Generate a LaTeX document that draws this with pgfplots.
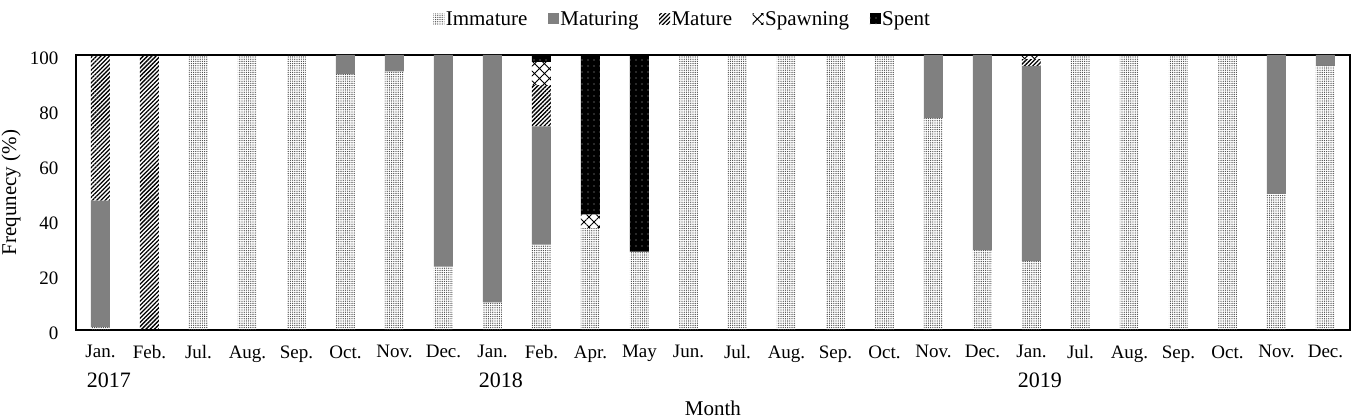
\documentclass[border=0pt]{standalone}
\usepackage{pgfplots}
\pgfplotsset{compat=1.18}
\usepackage{pgfplotstable}
\usetikzlibrary{patterns.meta}
\usepackage{fontspec}
\setmainfont{Liberation Serif}

\pgfplotstableread{
x imm matg mat spw spt
0 1 46 53 0 0
1 0 0 100 0 0
2 100 0 0 0 0
3 100 0 0 0 0
4 100 0 0 0 0
5 93 7 0 0 0
6 94 6 0 0 0
7 23 77 0 0 0
8 10 90 0 0 0
9 31 43 15 8.5 2.5
10 37 0 0 5 58
11 28.5 0 0 0 71.5
12 100 0 0 0 0
13 100 0 0 0 0
14 100 0 0 0 0
15 100 0 0 0 0
16 100 0 0 0 0
17 77 23 0 0 0
18 29 71 0 0 0
19 25 71 2.5 1.5 0
20 100 0 0 0 0
21 100 0 0 0 0
22 100 0 0 0 0
23 100 0 0 0 0
24 49.5 50.5 0 0 0
25 96 4 0 0 0
}\data

\begin{document}
\begin{tikzpicture}
\useasboundingbox (-76pt,-90pt) rectangle (1295pt,330pt);
\begin{axis}[
  at={(0pt,0pt)}, anchor=south west,
  scale only axis, width=1274pt, height=275pt,
  clip=false,
  ybar stacked, bar width=19pt,
  xmin=-0.5, xmax=25.5, ymin=0, ymax=100,
  xtick={0,...,25},
  xticklabels={Jan.,Feb.,Jul.,Aug.,Sep.,Oct.,Nov.,Dec.,Jan.,Feb.,Apr.,May,Jun.,Jul.,Aug.,Sep.,Oct.,Nov.,Dec.,Jan.,Jul.,Aug.,Sep.,Oct.,Nov.,Dec.},
  ytick={0,20,...,100},
  major tick length=0pt,
  axis line style={line width=1.5pt},
  tick label style={font=\fontsize{19}{22}\selectfont},
  xticklabel style={yshift=-12pt},
  yticklabel style={xshift=-14pt, yshift=-3pt},
  /pgf/number format/assume math mode=true,
  xlabel={Month},
  ylabel={Frequnecy (\%)},
  every axis x label/.style={at={(axis description cs:0.5,-0.284)}, anchor=center, font=\fontsize{21}{24}\selectfont},
  every axis y label/.style={at={(axis description cs:-0.051,0.5)}, rotate=90, anchor=center, font=\fontsize{21}{24}\selectfont},
  area legend,
  legend image code/.code={\path[#1] (0pt,-5.5pt) rectangle (11pt,5.5pt);},
  legend style={at={(0.476,1.131)}, anchor=center, draw=none, fill=none,
    legend columns=5, font=\fontsize{21}{24}\selectfont,
    nodes={inner sep=1.5pt},
    /tikz/every even column/.append style={column sep=19pt}},
  legend cell align=left,
]
\addplot[draw=none, pattern={Dots[distance=2.2pt, radius=0.65pt]}, pattern color=black!75] table[x=x, y=imm] {\data};
\addplot[draw=none, fill={rgb,255:red,128;green,128;blue,128}] table[x=x, y=matg] {\data};
\addplot[draw=none, pattern={Lines[angle=45, distance=3pt, line width=1.3pt]}, pattern color=black] table[x=x, y=mat] {\data};
\addplot[draw=none, pattern={Hatch[angle=45, distance=7pt, line width=0.9pt]}, pattern color=black] table[x=x, y=spw] {\data};
\addplot[draw=none, fill=black, postaction={pattern={Dots[distance=6pt, radius=0.7pt]}, pattern color=white!70!black}] table[x=x, y=spt] {\data};
\legend{Immature,Maturing,Mature,Spawning,Spent}
\node[anchor=west, inner sep=0pt, font=\fontsize{22}{24}\selectfont] at ({axis cs:-0.28,0} |- {axis description cs:0,-0.182}) {2017};
\node[anchor=west, inner sep=0pt, font=\fontsize{22}{24}\selectfont] at ({axis cs:7.72,0} |- {axis description cs:0,-0.182}) {2018};
\node[anchor=west, inner sep=0pt, font=\fontsize{22}{24}\selectfont] at ({axis cs:18.72,0} |- {axis description cs:0,-0.182}) {2019};
\end{axis}
\end{tikzpicture}
\end{document}
